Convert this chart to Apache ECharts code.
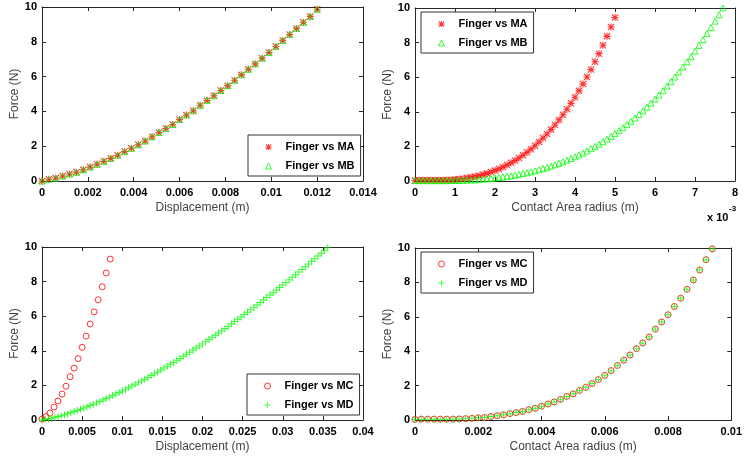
<!DOCTYPE html>
<html><head><meta charset="utf-8">
<script src="https://cdn.jsdelivr.net/npm/echarts@6/dist/echarts.min.js"></script>
<style>html,body{margin:0;padding:0;background:#fff}#c{width:745px;height:460px}</style>
</head><body><div id="c"></div>
<script>
// ---------- Panel 1 : Force vs Displacement (MA / MB)
const disp1 = [0,0.0003,0.0006,0.0009,0.0012,0.0015,0.0018,0.0021,0.0024,0.0027,0.003,0.0033,0.0036,0.0039,0.0042,0.0045,0.0048,0.0051,0.0054,0.0057,0.006,0.0063,0.0066,0.0069,0.0072,0.0075,0.0078,0.0081,0.0084,0.0087,0.009,0.0093,0.0096,0.0099,0.0102,0.0105,0.0108,0.0111,0.0114,0.0117,0.012];
const forceMA1 = [0,0.1,0.17,0.29,0.4,0.5,0.65,0.8,0.96,1.13,1.3,1.48,1.69,1.88,2.08,2.3,2.54,2.79,3.02,3.25,3.54,3.79,4.04,4.35,4.62,4.9,5.2,5.48,5.79,6.1,6.42,6.73,7.06,7.38,7.73,8.08,8.42,8.77,9.12,9.46,9.87];
const forceMB1 = [0,0.1,0.17,0.29,0.4,0.5,0.65,0.8,0.96,1.13,1.3,1.48,1.69,1.88,2.08,2.3,2.54,2.79,3.02,3.25,3.54,3.79,4.04,4.35,4.62,4.9,5.2,5.48,5.79,6.1,6.42,6.73,7.06,7.38,7.73,8.08,8.42,8.77,9.12,9.46,9.87];

// ---------- Panel 2 : Force vs Contact Area radius (x 10^-3 m) (MA / MB)
const radiusMA = [0,0.1,0.2,0.3,0.4,0.5,0.6,0.7,0.8,0.9,1,1.1,1.2,1.3,1.4,1.5,1.6,1.7,1.8,1.9,2,2.1,2.2,2.3,2.4,2.5,2.6,2.7,2.8,2.9,3,3.1,3.2,3.3,3.4,3.5,3.6,3.7,3.8,3.9,4,4.1,4.2,4.3,4.4,4.5,4.6,4.7,4.8,4.9,5];
const forceMA2 = [0.03,0.04,0.04,0.04,0.05,0.05,0.05,0.05,0.06,0.06,0.08,0.1,0.13,0.17,0.21,0.26,0.31,0.37,0.44,0.52,0.61,0.7,0.81,0.92,1.05,1.18,1.33,1.49,1.66,1.84,2.04,2.25,2.48,2.72,2.97,3.24,3.53,3.83,4.15,4.49,4.84,5.21,5.6,6.01,6.44,6.89,7.36,7.85,8.36,8.9,9.45];
const radiusMB = [0,0.1,0.2,0.3,0.4,0.5,0.6,0.7,0.8,0.9,1,1.1,1.2,1.3,1.4,1.5,1.6,1.7,1.8,1.9,2,2.1,2.2,2.3,2.4,2.5,2.6,2.7,2.8,2.9,3,3.1,3.2,3.3,3.4,3.5,3.6,3.7,3.8,3.9,4,4.1,4.2,4.3,4.4,4.5,4.6,4.7,4.8,4.9,5,5.1,5.2,5.3,5.4,5.5,5.6,5.7,5.8,5.9,6,6.1,6.2,6.3,6.4,6.5,6.6,6.7,6.8,6.9,7,7.1,7.2,7.3,7.4,7.5,7.6,7.7];
const forceMB2 = [0.02,0.02,0.02,0.02,0.02,0.02,0.02,0.02,0.02,0.03,0.03,0.03,0.04,0.05,0.06,0.07,0.09,0.11,0.13,0.15,0.18,0.2,0.23,0.27,0.3,0.34,0.39,0.43,0.48,0.53,0.59,0.65,0.72,0.79,0.86,0.94,1.02,1.11,1.2,1.3,1.4,1.51,1.62,1.74,1.87,2.0,2.13,2.27,2.42,2.58,2.74,2.91,3.08,3.26,3.45,3.64,3.85,4.06,4.27,4.5,4.73,4.97,5.22,5.48,5.74,6.01,6.3,6.59,6.89,7.19,7.51,7.84,8.17,8.52,8.87,9.24,9.61,10.0];

// ---------- Panel 3 : Force vs Displacement (MC / MD)
const dispMC = [0,0.0005,0.001,0.0015,0.002,0.0025,0.003,0.0035,0.004,0.0045,0.005,0.0055,0.006,0.0065,0.007,0.0075,0.008,0.0085];
const forceMC3 = [0.05,0.2,0.4,0.75,1.1,1.5,1.95,2.5,3.0,3.55,4.2,4.85,5.55,6.25,6.95,7.7,8.5,9.3];
const dispMD = [0,0.0004,0.0008,0.0012,0.0016,0.002,0.0024,0.0028,0.0032,0.0036,0.004,0.0044,0.0048,0.0052,0.0056,0.006,0.0064,0.0068,0.0072,0.0076,0.008,0.0084,0.0088,0.0092,0.0096,0.01,0.0104,0.0108,0.0112,0.0116,0.012,0.0124,0.0128,0.0132,0.0136,0.014,0.0144,0.0148,0.0152,0.0156,0.016,0.0164,0.0168,0.0172,0.0176,0.018,0.0184,0.0188,0.0192,0.0196,0.02,0.0204,0.0208,0.0212,0.0216,0.022,0.0224,0.0228,0.0232,0.0236,0.024,0.0244,0.0248,0.0252,0.0256,0.026,0.0264,0.0268,0.0272,0.0276,0.028,0.0284,0.0288,0.0292,0.0296,0.03,0.0304,0.0308,0.0312,0.0316,0.032,0.0324,0.0328,0.0332,0.0336,0.034,0.0344,0.0348,0.0352,0.0356];
const forceMD3 = [0,0.03,0.06,0.1,0.15,0.2,0.25,0.3,0.36,0.42,0.49,0.55,0.62,0.69,0.76,0.84,0.91,0.99,1.07,1.15,1.24,1.32,1.41,1.5,1.59,1.68,1.77,1.87,1.96,2.06,2.16,2.26,2.36,2.46,2.57,2.67,2.78,2.89,3.0,3.11,3.22,3.33,3.45,3.56,3.68,3.8,3.92,4.04,4.16,4.28,4.4,4.53,4.65,4.78,4.9,5.03,5.16,5.29,5.42,5.56,5.69,5.82,5.96,6.1,6.23,6.37,6.51,6.65,6.79,6.93,7.08,7.22,7.36,7.51,7.66,7.8,7.95,8.1,8.25,8.4,8.55,8.7,8.86,9.01,9.17,9.32,9.48,9.64,9.79,9.95];

// ---------- Panel 4 : Force vs Contact Area radius (MC / MD)
const radius4 = [0,0.0002,0.0004,0.0006,0.0008,0.001,0.0012,0.0014,0.0016,0.0018,0.002,0.0022,0.0024,0.0026,0.0028,0.003,0.0032,0.0034,0.0036,0.0038,0.004,0.0042,0.0044,0.0046,0.0048,0.005,0.0052,0.0054,0.0056,0.0058,0.006,0.0062,0.0064,0.0066,0.0068,0.007,0.0072,0.0074,0.0076,0.0078,0.008,0.0082,0.0084,0.0086,0.0088,0.009,0.0092,0.0094];
const forceMC4 = [0.03,0.05,0.05,0.05,0.05,0.05,0.05,0.06,0.08,0.1,0.13,0.15,0.2,0.25,0.3,0.37,0.43,0.5,0.6,0.68,0.8,0.93,1.05,1.2,1.37,1.52,1.72,1.9,2.12,2.35,2.6,2.87,3.17,3.48,3.78,4.15,4.48,4.83,5.28,5.7,6.12,6.6,7.08,7.6,8.14,8.72,9.32,9.95];
const forceMD4 = [0.03,0.05,0.05,0.05,0.05,0.05,0.05,0.06,0.08,0.1,0.13,0.15,0.2,0.25,0.3,0.37,0.43,0.5,0.6,0.68,0.8,0.93,1.05,1.2,1.37,1.52,1.72,1.9,2.12,2.35,2.6,2.87,3.17,3.48,3.78,4.15,4.48,4.83,5.28,5.7,6.12,6.6,7.08,7.6,8.14,8.72,9.32,9.95];

// ---------- tick settings & labels
const forceTicks = {min: 0, max: 10, interval: 2};
const xTicks = [
  {min: 0, max: 0.014, interval: 0.002},
  {min: 0, max: 8, interval: 1},
  {min: 0, max: 0.04, interval: 0.005},
  {min: 0, max: 0.01, interval: 0.002}
];
const xNames = ['Displacement (m)', 'Contact Area radius (m)', 'Displacement (m)', 'Contact Area radius (m)'];
const yName = 'Force (N)';
const legendNames = [['Finger vs MA','Finger vs MB'],['Finger vs MA','Finger vs MB'],['Finger vs MC','Finger vs MD'],['Finger vs MC','Finger vs MD']];

// ---------- drawing
const FONT = '"Liberation Sans", Arial, Helvetica, sans-serif';
const AX = '#262626';
const RED = '#ff0000', GREEN = '#00ff00';
const ASTERISK = 'path://M4.2,0H5.8V10H4.2Z M0,4.2H10V5.8H0Z M1.1,0L10,8.9L8.9,10L0,1.1Z M8.9,0L10,1.1L1.1,10L0,8.9Z';
const PLUS = 'path://M4.3,0H5.7V10H4.3Z M0,4.3H10V5.7H0Z';

const grids = [
  {left: 42, right: 382, top: 7, bottom: 279},
  {left: 415, right: 10, top: 8, bottom: 279},
  {left: 42, right: 382, top: 247, bottom: 40},
  {left: 415, right: 8, top: 248, bottom: 40}
];
const legendPos = [
  {left: 248, top: 135},
  {left: 421, top: 12},
  {left: 247, top: 374},
  {left: 421, top: 252}
];

const pairs = (xs, ys) => xs.map((x, i) => [x, ys[i]]);

const xAxis = [], yAxis = [];
grids.forEach((g, gi) => {
  const t = xTicks[gi];
  xAxis.push({
    type: 'value', gridIndex: gi, position: 'bottom', min: t.min, max: t.max, interval: t.interval,
    name: xNames[gi], nameLocation: 'middle', nameGap: 21,
    nameTextStyle: {fontFamily: FONT, fontSize: 12, color: '#444'},
    axisLine: {show: true, onZero: false, lineStyle: {color: AX, width: 1}},
    axisTick: {show: true, inside: true, length: 4, lineStyle: {color: AX}},
    axisLabel: {margin: 6, color: '#000', fontWeight: 'bold', fontSize: 11, fontFamily: FONT, showMinLabel: true, showMaxLabel: true, hideOverlap: false},
    splitLine: {show: false}
  });
  xAxis.push({
    type: 'value', gridIndex: gi, position: 'top', min: t.min, max: t.max, interval: t.interval,
    axisLine: {show: true, onZero: false, lineStyle: {color: AX, width: 1}},
    axisTick: {show: true, inside: true, length: 4, lineStyle: {color: AX}},
    axisLabel: {show: false}, splitLine: {show: false}
  });
  yAxis.push({
    type: 'value', gridIndex: gi, position: 'left', min: forceTicks.min, max: forceTicks.max, interval: forceTicks.interval,
    name: yName, nameLocation: 'middle', nameGap: 19, nameRotate: 90,
    nameTextStyle: {fontFamily: FONT, fontSize: 12, color: '#444'},
    axisLine: {show: true, onZero: false, lineStyle: {color: AX, width: 1}},
    axisTick: {show: true, inside: true, length: 4, lineStyle: {color: AX}},
    axisLabel: {margin: 5, color: '#000', fontWeight: 'bold', fontSize: 11, fontFamily: FONT, showMinLabel: true, showMaxLabel: true},
    splitLine: {show: false}
  });
  yAxis.push({
    type: 'value', gridIndex: gi, position: 'right', min: forceTicks.min, max: forceTicks.max, interval: forceTicks.interval,
    axisLine: {show: true, onZero: false, lineStyle: {color: AX, width: 1}},
    axisTick: {show: true, inside: true, length: 4, lineStyle: {color: AX}},
    axisLabel: {show: false}, splitLine: {show: false}
  });
});

const asteriskStyle = {symbol: ASTERISK, symbolSize: 7, itemStyle: {color: RED}};
const triangleStyle = {symbol: 'triangle', symbolSize: 6, itemStyle: {color: 'rgba(0,0,0,0)', borderColor: GREEN, borderWidth: 1}};
const circleStyle = {symbol: 'circle', symbolSize: 6, itemStyle: {color: 'rgba(0,0,0,0)', borderColor: RED, borderWidth: 1}};
const plusStyle = {symbol: PLUS, symbolSize: 7, itemStyle: {color: GREEN}};

function sc(gi, name, data, style) {
  return Object.assign({type: 'scatter', name, xAxisIndex: gi * 2, yAxisIndex: gi * 2, data,
    emphasis: {disabled: true}, silent: true}, style);
}

const series = [
  sc(0, 'Finger vs MA', pairs(disp1, forceMA1), asteriskStyle),
  sc(0, 'Finger vs MB', pairs(disp1, forceMB1), triangleStyle),
  sc(1, 'Finger vs MA', pairs(radiusMA, forceMA2), asteriskStyle),
  sc(1, 'Finger vs MB', pairs(radiusMB, forceMB2), triangleStyle),
  sc(2, 'Finger vs MC', pairs(dispMC, forceMC3), circleStyle),
  sc(2, 'Finger vs MD', pairs(dispMD, forceMD3), plusStyle),
  sc(3, 'Finger vs MC', pairs(radius4, forceMC4), circleStyle),
  sc(3, 'Finger vs MD', pairs(radius4, forceMD4), plusStyle)
];

const legend = legendPos.map((p, i) => ({
  data: legendNames[i], orient: 'vertical', left: p.left, top: p.top,
  padding: [5, 6, 3, 17], itemGap: 5, itemWidth: 6, itemHeight: 6,
  borderColor: '#333', borderWidth: 1, backgroundColor: '#fff', selectedMode: false,
  itemStyle: {borderWidth: 1},
  textStyle: {fontFamily: FONT, fontSize: 11, fontWeight: 'bold', color: '#000', lineHeight: 14, padding: [0, 0, 0, 9]}
}));

const chart = echarts.init(document.getElementById('c'), null, {renderer: 'canvas'});
chart.setOption({
  animation: false,
  backgroundColor: '#fff',
  grid: grids.map(g => Object.assign({containLabel: false}, g)),
  xAxis, yAxis, series, legend,
  graphic: [
    {type: 'text', x: 707, y: 218, style: {text: 'x 10', font: 'bold 11px ' + FONT, fill: '#000', textVerticalAlign: 'middle'}},
    {type: 'text', x: 729, y: 209, style: {text: '-3', font: 'bold 8px ' + FONT, fill: '#000', textVerticalAlign: 'middle'}}
  ]
});
</script>
</body></html>
